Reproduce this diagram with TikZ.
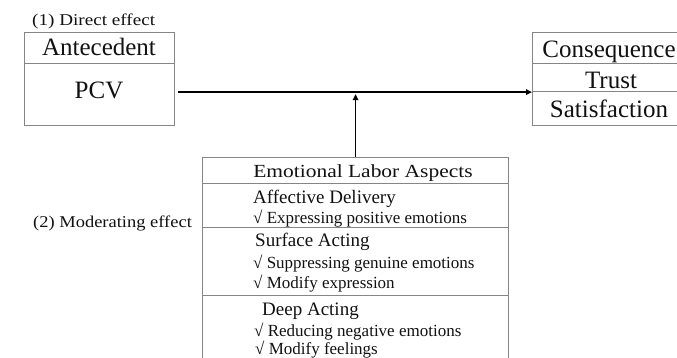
\documentclass[tikz,border=0pt]{standalone}
\usepackage{fontspec}
\setmainfont{Liberation Serif}
\newfontfamily\widefont[FakeStretch=1.16]{Liberation Serif}
\newfontfamily\midfont[FakeStretch=1.12]{Liberation Serif}
\usetikzlibrary{arrows.meta}

\definecolor{boxgray}{HTML}{858585}
\definecolor{ink}{HTML}{111111}

\tikzset{
  cell/.style={draw=boxgray, line width=1.1pt, inner sep=0pt, anchor=north west},
  lbl/.style={inner sep=0pt, text=ink},
  big/.style={lbl, anchor=base, font=\fontsize{25}{30}\selectfont},
  head/.style={lbl, anchor=base west, font=\fontsize{19}{23}\selectfont},
  item/.style={lbl, anchor=base west, font=\fontsize{17}{20}\selectfont},
  conn/.style={draw=black, line width=1.7pt, -{Triangle[length=6pt,width=5.5pt]}}
}

\begin{document}
\begin{tikzpicture}[x=1pt,y=-1pt]
\path[use as bounding box, clip] (0,0) rectangle (677,357);

% antecedent box
\node[cell, minimum width=150pt, minimum height=31pt] (ante) at (24,32) {};
\node[cell, minimum width=150pt, minimum height=62pt] (pcv) at (24,63) {};
\node[lbl, anchor=base west, font=\widefont\fontsize{16.5}{20}\selectfont] (direct) at (32,25) {(1) Direct effect};
\node[big] (tante) at (99,55) {Antecedent};
\node[big] (tpcv) at (99,98) {PCV};

% consequence box
\node[cell, minimum width=146pt, minimum height=31pt] (cons) at (532,32) {};
\node[cell, minimum width=146pt, minimum height=28pt] (trust) at (532,63) {};
\node[cell, minimum width=146pt, minimum height=34pt] (satis) at (532,91) {};
\node[big] (tcons) at (609,57) {Consequence};
\node[big] (ttrust) at (611,88) {Trust};
\node[big] (tsatis) at (609,117) {Satisfaction};

% emotional labor box
\node[cell, minimum width=306pt, minimum height=26pt] (emo) at (202,157) {};
\node[cell, minimum width=306pt, minimum height=44pt] (aff) at (202,183) {};
\node[cell, minimum width=306pt, minimum height=68pt] (surf) at (202,227) {};
\node[cell, minimum width=306pt, minimum height=90pt] (deep) at (202,295) {};

\node[lbl, anchor=base, font=\widefont\fontsize{18.5}{22}\selectfont] (temo) at (363,177) {Emotional Labor Aspects};
\node[head] (taff) at (253,203) {Affective Delivery};
\node[item] (aff1) at (253,223) {√ Expressing positive emotions};
\node[head] (tsurf) at (255,246) {Surface Acting};
\node[item] (surf1) at (253,268) {√ Suppressing genuine emotions};
\node[item] (surf2) at (253,288) {√ Modify expression};
\node[head] (tdeep) at (262,315) {Deep Acting};
\node[item] (deep1) at (254,336) {√ Reducing negative emotions};
\node[item] (deep2) at (255,354) {√ Modify feelings};

\node[lbl, anchor=base west, font=\midfont\fontsize{16.5}{20}\selectfont] (moder) at (33,227) {(2) Moderating effect};

% connectors
\coordinate (start) at ([xshift=3pt]pcv.east |- trust.south west);
\draw[conn] (start) -- (trust.south west);
\draw[conn] (emo.north) -- ([yshift=-2pt]emo.north |- trust.south west);
\end{tikzpicture}
\end{document}
